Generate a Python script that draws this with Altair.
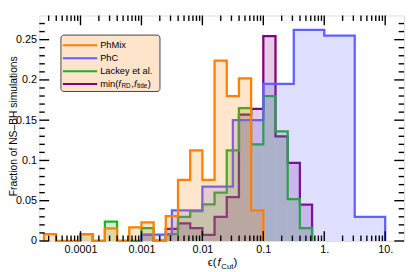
import altair as alt
import pandas as pd

W, H = 372, 230
FONT = "Liberation Sans"

# ---- data: log10 bin edges and fraction of simulations per bin ----
phmix_edges = [-4.6, -4.4, -4.2, -4.0, -3.8, -3.6, -3.4, -3.2, -3.0, -2.8,
               -2.6, -2.4, -2.2, -2.0, -1.8, -1.6, -1.4, -1.2, -1.0]
phmix_frac = [0.0085, 0, 0, 0.0085, 0, 0.0155, 0, 0.017, 0.023, 0,
              0.031, 0.076, 0.1125, 0.076, 0.224, 0.180, 0.202, 0.038]

phc_edges = [-3.0, -2.5, -2.0, -1.5, -1.0, -0.5, 0.0, 0.5, 1.0]
phc_frac = [0.008, 0.038, 0.0675, 0.150, 0.195, 0.262, 0.255, 0.030]

lackey_edges = [-4.0, -3.8, -3.6, -3.4, -3.2, -3.0, -2.8, -2.6, -2.4, -2.2,
                -2.0, -1.8, -1.6, -1.4, -1.2, -1.0, -0.8, -0.6, -0.4, -0.2]
lackey_frac = [0.0085, 0, 0.024, 0, 0, 0.016, 0, 0.0085, 0.030, 0.037,
               0.0455, 0.060, 0.1125, 0.165, 0.12, 0.18, 0.136, 0.052, 0.016]

minf_edges = [-3.0, -2.8, -2.6, -2.4, -2.2, -2.0, -1.8, -1.6, -1.4, -1.2,
              -1.0, -0.8, -0.6, -0.4, -0.2]
minf_frac = [0.0077, 0, 0.015, 0.022, 0.016, 0.0077, 0.030, 0.0545, 0.157,
             0.164, 0.2545, 0.13, 0.097, 0.045]

series_names = ["PhMix", "PhC", "Lackey et al.", "min"]
series_colors = ["#FF8000", "#6060FF", "#22B022", "#800080"]

x_major = [0.0001, 0.001, 0.01, 0.1, 1, 10]
y_major = [0, 0.05, 0.1, 0.15, 0.2, 0.25]

# ---- scales/axes ----
xscale = alt.Scale(type="log", domain=[2.113e-5, 20.4], nice=False)
yscale = alt.Scale(domain=[0, 0.28], nice=False, zero=False)
xaxis = alt.Axis(values=x_major, ticks=False, domain=False, grid=False, title=None,
                 labelExpr="datum.value >= 1 ? format(datum.value, 'd') + '.' : format(datum.value, '~g')",
                 labelFont=FONT, labelFontSize=11, labelColor="black", labelPadding=3,
                 labelFlush=False, labelOverlap=False)
yaxis = alt.Axis(values=y_major, ticks=False, domain=False, grid=False, title=None,
                 format="~g", labelFont=FONT, labelFontSize=11, labelColor="black",
                 labelPadding=3, labelOverlap=False)

def X(field="x"):
    return alt.X(f"{field}:Q", scale=xscale, axis=xaxis)

def Y(field="y"):
    return alt.Y(f"{field}:Q", scale=yscale, axis=yaxis)

def step_frames(edges, fracs):
    line_rows = [{"x": 10 ** edges[0], "y": 0.0, "i": 0}]
    area_rows = []
    for k, f in enumerate(fracs):
        line_rows.append({"x": 10 ** edges[k], "y": f, "i": k + 1})
        area_rows.append({"x": 10 ** edges[k], "y": f, "i": k})
    line_rows.append({"x": 10 ** edges[-1], "y": 0.0, "i": len(fracs) + 1})
    area_rows.append({"x": 10 ** edges[-1], "y": 0.0, "i": len(fracs)})
    return pd.DataFrame(line_rows), pd.DataFrame(area_rows)

all_series = [
    (phmix_edges, phmix_frac, series_colors[0]),
    (phc_edges, phc_frac, series_colors[1]),
    (lackey_edges, lackey_frac, series_colors[2]),
    (minf_edges, minf_frac, series_colors[3]),
]

layers = []
# draw purple first, orange last (on top)
for edges, fracs, col in reversed(all_series):
    ldf, adf = step_frames(edges, fracs)
    layers.append(alt.Chart(adf).mark_area(interpolate="step-after", color=col, opacity=0.2)
                  .encode(x=X(), y=Y(), order="i:Q"))
    layers.append(alt.Chart(ldf).mark_line(interpolate="step-after", color=col, strokeWidth=2.3,
                                           strokeJoin="miter")
                  .encode(x=X(), y=Y(), order="i:Q"))

# ---- frame ticks (inward) ----
x_minor = [m * 10.0 ** k for k in range(-5, 2) for m in range(2, 10)]
x_minor = [v for v in x_minor if 2.3e-5 < v < 20]
y_minor = [round(0.01 * i, 2) for i in range(0, 28) if i % 5 != 0]

def tick_df(vals, name):
    return pd.DataFrame({name: vals})

MAJ, MIN = 10, 5.5
tick_style = dict(color="black", strokeWidth=1.4)
for vals, ln in [(x_major, MAJ), (x_minor, MIN)]:
    d = tick_df(vals, "x")
    layers.append(alt.Chart(d).mark_rule(**tick_style).encode(x=X(), y=alt.value(H), y2=alt.value(H - ln)))
    layers.append(alt.Chart(d).mark_rule(**tick_style).encode(x=X(), y=alt.value(0), y2=alt.value(ln)))
for vals, ln in [(y_major, MAJ), (y_minor, MIN)]:
    d = tick_df(vals, "y")
    layers.append(alt.Chart(d).mark_rule(**tick_style).encode(y=Y(), x=alt.value(0), x2=alt.value(ln)))
    layers.append(alt.Chart(d).mark_rule(**tick_style).encode(y=Y(), x=alt.value(W), x2=alt.value(W - ln)))

one = pd.DataFrame({"a": [0]})

# ---- legend (manual, to allow subscripts) ----
layers.append(alt.Chart(one).mark_rect(cornerRadius=3, fill="#FFE4CC", stroke="#444444", strokeWidth=1)
              .encode(x=alt.value(22), x2=alt.value(123), y=alt.value(20), y2=alt.value(77.5)))
leg_y = [30.3, 43.6, 56.8, 69.8]
for name, col, ly in zip(series_names, series_colors, leg_y):
    layers.append(alt.Chart(one).mark_rule(color=col, strokeWidth=2)
                  .encode(x=alt.value(24), x2=alt.value(59), y=alt.value(ly)))
    if name != "min":
        layers.append(alt.Chart(one).mark_text(text=name, font=FONT, fontSize=9.5, align="left",
                                               baseline="middle", color="black")
                      .encode(x=alt.value(62), y=alt.value(ly)))

def txt(s, x, y, size=9.5, italic=False, baseline="middle", align="left"):
    kw = dict(text=s, font=FONT, fontSize=size, align=align, baseline=baseline, color="black")
    if italic:
        kw["fontStyle"] = "italic"
    return alt.Chart(one).mark_text(**kw).encode(x=alt.value(x), y=alt.value(y))

ly = leg_y[3]
layers += [
    txt("min(", 62, ly),
    txt("f", 80.5, ly, italic=True),
    txt("RD", 83.8, ly + 2.5, size=6.5),
    txt(",", 93.6, ly),
    txt("f", 96.4, ly, italic=True),
    txt("tide", 99.6, ly + 2.5, size=6.5),
    txt(")", 110.6, ly),
]

# ---- axis titles ----
bx = 171.7
by = 256.0
layers += [
    txt("ϵ(", bx, by, size=11.5, baseline="alphabetic"),
    txt("f", bx + 10.0, by, size=11.5, italic=True, baseline="alphabetic"),
    txt("Cut", bx + 13.8, by + 2.6, size=8, baseline="alphabetic"),
    txt(")", bx + 26.4, by, size=11.5, baseline="alphabetic"),
]
layers.append(alt.Chart(one).mark_text(text="Fraction of NS–BH simulations", font=FONT, fontSize=10.5,
                                       angle=270, align="center", baseline="alphabetic", color="black")
              .encode(x=alt.value(-22.4), y=alt.value(113)))

chart = alt.layer(*layers).properties(
    width=W, height=H,
    autosize=alt.AutoSizeParams(type="none"),
    padding={"left": 32, "top": 5, "right": 3, "bottom": 29},
).configure_view(stroke="black", strokeWidth=1.8).configure(background="white")

chart.save("out.html", embed_options={"renderer": "svg", "actions": False})
